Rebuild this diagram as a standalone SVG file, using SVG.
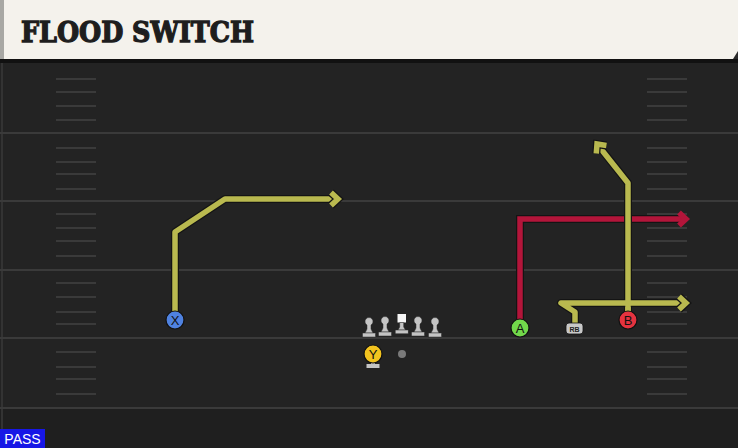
<svg xmlns="http://www.w3.org/2000/svg" width="738" height="448" viewBox="0 0 738 448">
<style>
.yl{stroke:#3a3a3a;stroke-width:2}
.hm{stroke:#3a3a3a;stroke-width:2}
.ol{fill:none;stroke:#141414;stroke-width:8;stroke-linejoin:round}
.ry{fill:none;stroke:#b9b94f;stroke-width:5.5;stroke-linejoin:round}
.rr{fill:none;stroke:#b3153a;stroke-width:5.5;stroke-linejoin:miter}
.lbl{font-family:"Liberation Sans",Arial,sans-serif;font-size:13px;fill:#111;text-anchor:middle}
.pl{fill:#c4c4c4;stroke:#2a2a2a;stroke-width:0.5}
</style>
<defs>
<marker id="ay" markerUnits="userSpaceOnUse" viewBox="-12 -10 16 20" markerWidth="16" markerHeight="20" refX="0" refY="0" orient="auto" overflow="visible">
<path d="M-7,-6.5 L0,0 L-7,6.5" fill="none" stroke="#141414" stroke-width="8"/>
<path d="M-7,-6.5 L0,0 L-7,6.5" fill="none" stroke="#b9b94f" stroke-width="5.5"/>
</marker>
<marker id="ar" markerUnits="userSpaceOnUse" viewBox="-12 -10 16 20" markerWidth="16" markerHeight="20" refX="0" refY="0" orient="auto" overflow="visible">
<path d="M-7,-6.5 L0,0 L-7,6.5" fill="none" stroke="#b3153a" stroke-width="5.5"/>
</marker>
</defs>
<rect x="0" y="0" width="738" height="448" fill="#232323"/>
<rect x="0" y="408" width="738" height="40" fill="#1f1f1f"/>
<line x1="2" y1="60" x2="2" y2="448" stroke="#333" stroke-width="2"/>
<g id="field">
<line class="yl" x1="0" y1="133" x2="738" y2="133"/>
<line class="yl" x1="0" y1="201" x2="738" y2="201"/>
<line class="yl" x1="0" y1="270" x2="738" y2="270"/>
<line class="yl" x1="0" y1="338" x2="738" y2="338"/>
<line class="yl" x1="0" y1="408" x2="738" y2="408"/>
<g id="hashL">
<line class="hm" x1="56" y1="79" x2="96" y2="79"/><line class="hm" x1="56" y1="92" x2="96" y2="92"/><line class="hm" x1="56" y1="106" x2="96" y2="106"/><line class="hm" x1="56" y1="120" x2="96" y2="120"/>
<line class="hm" x1="56" y1="148" x2="96" y2="148"/><line class="hm" x1="56" y1="162" x2="96" y2="162"/><line class="hm" x1="56" y1="174" x2="96" y2="174"/><line class="hm" x1="56" y1="189" x2="96" y2="189"/>
<line class="hm" x1="56" y1="214" x2="96" y2="214"/><line class="hm" x1="56" y1="228" x2="96" y2="228"/><line class="hm" x1="56" y1="241" x2="96" y2="241"/><line class="hm" x1="56" y1="256" x2="96" y2="256"/>
<line class="hm" x1="56" y1="283" x2="96" y2="283"/><line class="hm" x1="56" y1="297" x2="96" y2="297"/><line class="hm" x1="56" y1="312" x2="96" y2="312"/><line class="hm" x1="56" y1="324" x2="96" y2="324"/>
<line class="hm" x1="56" y1="352" x2="96" y2="352"/><line class="hm" x1="56" y1="367" x2="96" y2="367"/><line class="hm" x1="56" y1="379" x2="96" y2="379"/><line class="hm" x1="56" y1="394" x2="96" y2="394"/>
</g>
<use href="#hashL" transform="translate(591,0)"/>
</g>
<g id="header">
<rect x="0" y="0" width="738" height="59" fill="#f4f2ec"/>
<rect x="0" y="0" width="4" height="59" fill="#a8a8a4"/>
<polygon points="738,51 738,59 733,59" fill="#2a2a2a"/>
<rect x="0" y="59" width="738" height="4" fill="#111"/>
<text x="21" y="42" font-family="'DejaVu Serif',serif" font-weight="bold" font-size="27" fill="#1e1e1e" stroke="#1e1e1e" stroke-width="1.3" textLength="233" lengthAdjust="spacingAndGlyphs">FLOOD SWITCH</text>
</g>
<g id="connectors">
<path class="ol" d="M175,312 V232 L225,199 H338"/>
<path class="ry" d="M175,312 V232 L225,199 H338" marker-end="url(#ay)"/>
<path class="ol" d="M520,320 V219 H686" style="stroke-linejoin:miter"/>
<path class="rr" d="M520,320 V219 H686" marker-end="url(#ar)"/>
<path class="ol" d="M628,312 V183 L598,145"/>
<path class="ry" d="M628,312 V183 L597,144" marker-end="url(#ay)"/>
<path class="ol" d="M575,323 V312 L561,303 H686"/>
<path class="ry" d="M575,323 V312 L561,303 H686" marker-end="url(#ay)"/>
<line x1="628" y1="299" x2="628" y2="312" stroke="#b9b94f" stroke-width="5.5"/>
</g>
<g id="node-X">
<circle cx="175" cy="320" r="9" fill="#4f82e0" stroke="#111" stroke-width="1.2"/>
<text class="lbl" x="175" y="324.5">X</text>
</g>
<g id="node-A">
<circle cx="520" cy="328" r="9" fill="#72d84b" stroke="#111" stroke-width="1.2"/>
<text class="lbl" x="520" y="332.5">A</text>
</g>
<g id="node-B">
<circle cx="628" cy="320" r="9" fill="#e5333f" stroke="#111" stroke-width="1.2"/>
<text class="lbl" x="628" y="324.5">B</text>
</g>
<g id="node-RB">
<rect x="566" y="323" width="17" height="11" rx="3" fill="#c8c8c8" stroke="#111" stroke-width="0.8"/>
<text x="574.5" y="331.5" font-family="'Liberation Sans',Arial,sans-serif" font-size="7" font-weight="bold" fill="#222" text-anchor="middle">RB</text>
</g>
<g id="node-OL">
<g id="lm"><path class="pl" d="M365,333 L367,329 V325 a4,4 0 1 1 4,0 V329 L373,333 Z"/><rect class="pl" x="362.5" y="333" width="13" height="4"/></g>
<use href="#lm" transform="translate(16,-1)"/>
<use href="#lm" transform="translate(49,-1)"/>
<use href="#lm" transform="translate(66,0)"/>
<rect x="397.5" y="314" width="8.5" height="8.5" fill="#f5f5f5"/>
<path class="pl" d="M398,330 L399.7,327 V322.5 H403.7 V327 L405.5,330 Z"/>
<rect class="pl" x="395.2" y="330" width="13" height="3.8"/>
</g>
<g id="node-Y">
<rect x="366.5" y="364" width="13" height="4" fill="#c4c4c4"/>
<rect x="371" y="360" width="4" height="5" fill="#c4c4c4"/>
<circle cx="373" cy="354" r="9" fill="#f2c31f" stroke="#111" stroke-width="1.2"/>
<text class="lbl" x="373" y="358.5">Y</text>
</g>
<g id="node-QB">
<circle cx="402" cy="354" r="4" fill="#7a7a7a"/>
</g>
<g id="pass">
<rect x="0" y="429" width="45" height="19" fill="#1717e6"/>
<text x="22.5" y="444" font-family="'Liberation Sans',Arial,sans-serif" font-size="14" fill="#fff" text-anchor="middle">PASS</text>
</g>
</svg>
